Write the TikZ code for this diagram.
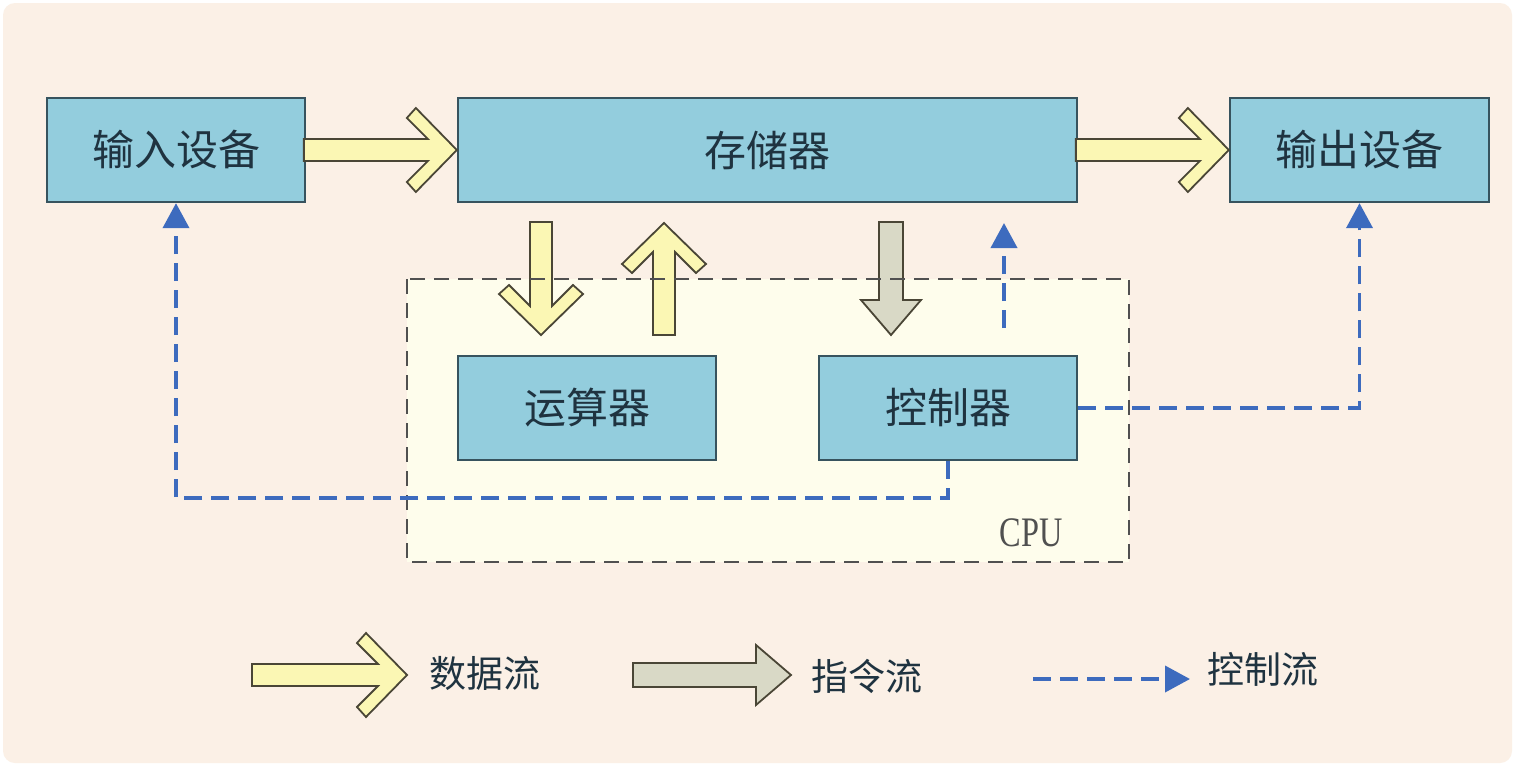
\documentclass[tikz,border=0pt]{standalone}
\usepackage{fontspec}
\newfontfamily\cjk{Noto Sans CJK SC}
\newfontfamily\serifcpu{Liberation Serif}
\usetikzlibrary{arrows.meta,calc}
\definecolor{bgc}{HTML}{FBF0E6}
\definecolor{boxfill}{HTML}{93CDDD}
\definecolor{boxdraw}{HTML}{37535E}
\definecolor{datafill}{HTML}{FBF7B4}
\definecolor{instfill}{HTML}{D9D9C6}
\definecolor{arrdraw}{HTML}{4A4636}
\definecolor{ctrlc}{HTML}{3D6BBE}
\definecolor{cpufill}{HTML}{FEFDEC}
\definecolor{cpudraw}{HTML}{505050}
\definecolor{txtc}{HTML}{1F3340}
\tikzset{
  unit box/.style={draw=boxdraw, line width=2.3pt, fill=boxfill, minimum height=104pt,
    inner sep=0pt, text=txtc, font=\cjk\fontsize{42}{48}\selectfont},
  dataarr/.style={draw=arrdraw, line width=1.8pt, fill=datafill, line join=miter},
  instarr/.style={draw=arrdraw, line width=1.8pt, fill=instfill, line join=miter},
  ctrl/.style={draw=ctrlc, line width=3.8pt, dash pattern=on 18pt off 9pt,
    -{Triangle[width=26pt,length=25pt]}},
  legtext/.style={text=txtc, font=\cjk\fontsize{37}{42}\selectfont, inner sep=0pt},
  pics/darrow/.style={code={
    \draw[dataarr] (0,0) -- (-41,-42) -- (-50,-32) -- (-29,-11) -- (-#1,-11)
      -- (-#1,11) -- (-29,11) -- (-50,32) -- (-41,42) -- cycle;}},
  pics/iarrow/.style={code={
    \draw[instarr] (0,0) -- (-35,-30) -- (-35,-12) -- (-#1,-12)
      -- (-#1,12) -- (-35,12) -- (-35,30) -- cycle;}},
}
\begin{document}
\begin{tikzpicture}[x=1pt,y=-1pt]
\useasboundingbox (0,0) rectangle (1515,766);
\fill[white] (0,0) rectangle (1515,766);
\fill[bgc, rounded corners=12pt] (3,3) rectangle (1512,763);

% CPU area fill
\fill[cpufill] (407,279) rectangle (1129,562);

% boxes
\node[unit box, minimum width=258pt] (in)  at (176,150) {输入设备};
\node[unit box, minimum width=619pt] (mem) at (767.5,150) {存储器};
\node[unit box, minimum width=259pt] (out) at (1359.5,150) {输出设备};
\node[unit box, minimum width=258pt] (alu) at (587,408) {运算器};
\node[unit box, minimum width=258pt] (ctl) at (948,408) {控制器};

% data flow arrows
\pic at (mem.west) {darrow=153};
\pic at (out.west) {darrow=153};
\coordinate (dtip) at (541,335);
\pic[rotate=-90] at (dtip) {darrow=113};
\coordinate (utip) at (664,223);
\pic[rotate=90] at (utip) {darrow=112};
% instruction flow arrow
\coordinate (itip) at (891,335);
\pic[rotate=-90] at (itip) {iarrow=113};

% CPU border
\draw[cpudraw, line width=2.8pt, dash pattern=on 15pt off 9pt] (407,279) rectangle (1129,562);
\node[text=cpudraw, font=\serifcpu\fontsize{42}{46}\selectfont, xscale=0.77, inner sep=0pt] (cpu) at (1031,533) {CPU};

% control flow
\draw[ctrl] (ctl.south) -- ++(0,37) -| (in.south);
\draw[ctrl] (ctl.east) -| (out.south);
\coordinate (cu0) at (1004,328);
\coordinate (cu1) at (1004,223);
\draw[ctrl] (cu0) -- (cu1);

% legend
\coordinate (l1) at (407,675);
\pic at (l1) {darrow=155};
\node[legtext] (t1) at (485,673) {数据流};
\coordinate (l2) at (791,675);
\pic at (l2) {iarrow=158};
\node[legtext] (t2) at (867,676) {指令流};
\coordinate (l3a) at (1033,679);
\coordinate (l3b) at (1190,679);
\draw[ctrl] (l3a) -- (l3b);
\node[legtext] (t3) at (1263,669) {控制流};
\end{tikzpicture}
\end{document}
